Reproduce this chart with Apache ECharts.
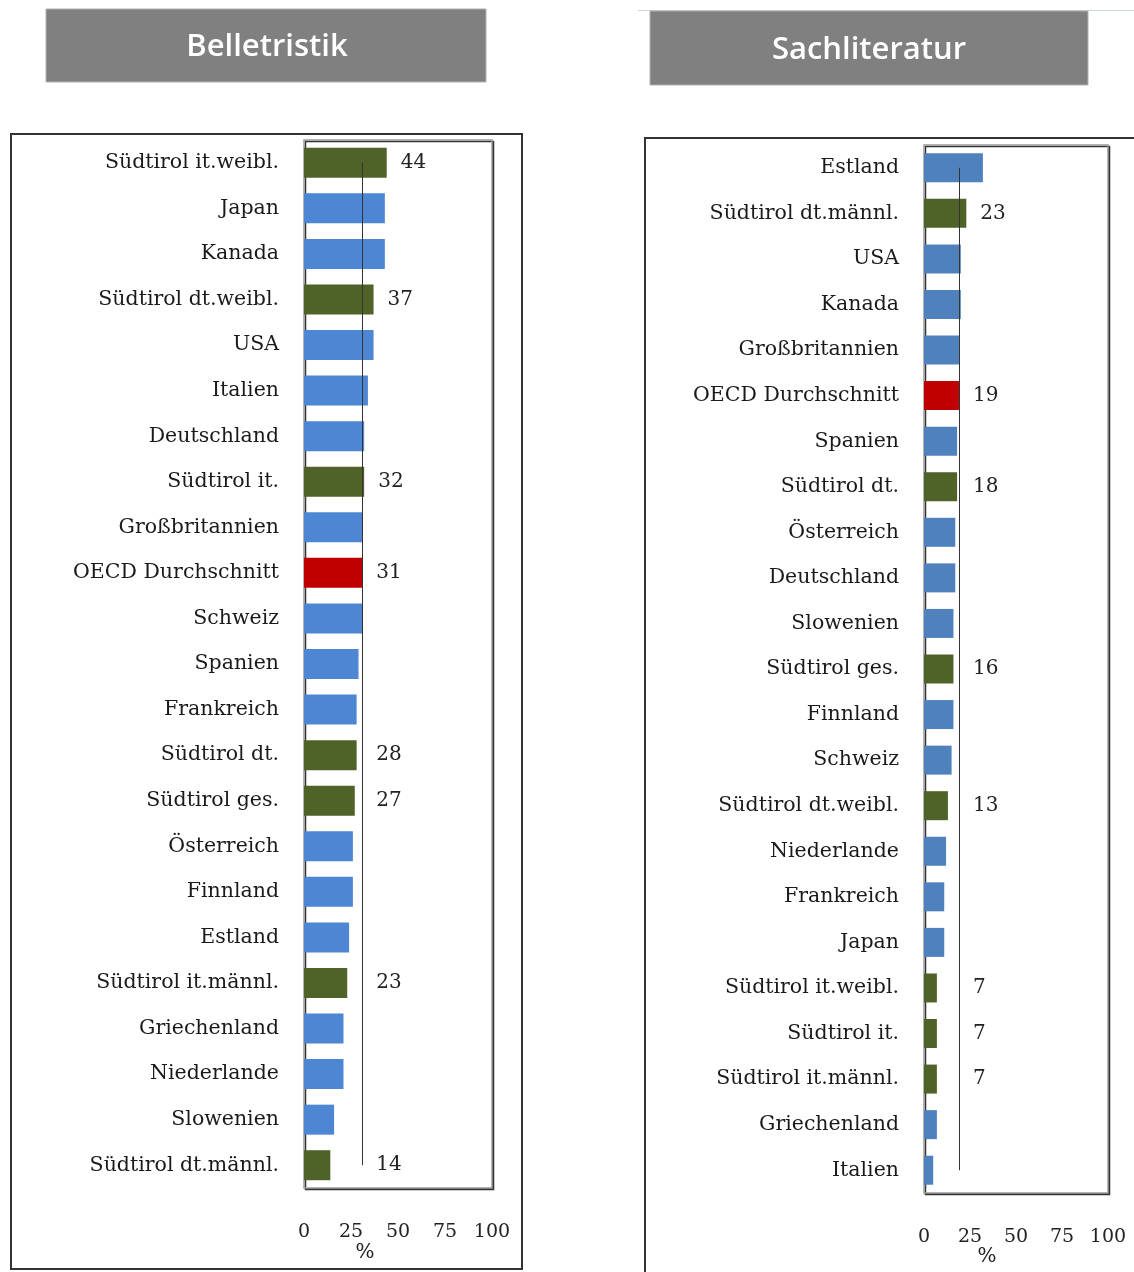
<!DOCTYPE html>
<html>
<head>
<meta charset="utf-8">
<script src="https://cdn.jsdelivr.net/npm/echarts@6/dist/echarts.min.js"></script>
<style>html,body{margin:0;padding:0;background:#fff;}#c{width:1134px;height:1272px;}</style>
</head>
<body>
<div id="c"></div>
<script>
// ---- Data ----
const belTitle = 'Belletristik';
const belCats = ['Südtirol it.weibl.','Japan','Kanada','Südtirol dt.weibl.','USA','Italien','Deutschland','Südtirol it.','Großbritannien','OECD Durchschnitt','Schweiz','Spanien','Frankreich','Südtirol dt.','Südtirol ges.','Österreich','Finnland','Estland','Südtirol it.männl.','Griechenland','Niederlande','Slowenien','Südtirol dt.männl.'];
const belVals = [44,43,43,37,37,34,32,32,31,31,31,29,28,28,27,26,26,24,23,21,21,16,14];
const belRef = 31;

const sachTitle = 'Sachliteratur';
const sachCats = ['Estland','Südtirol dt.männl.','USA','Kanada','Großbritannien','OECD Durchschnitt','Spanien','Südtirol dt.','Österreich','Deutschland','Slowenien','Südtirol ges.','Finnland','Schweiz','Südtirol dt.weibl.','Niederlande','Frankreich','Japan','Südtirol it.weibl.','Südtirol it.','Südtirol it.männl.','Griechenland','Italien'];
const sachVals = [32,23,20,20,19,19,18,18,17,17,16,16,16,15,13,12,11,11,7,7,7,7,5];
const sachRef = 19;

const xTicks = [0,25,50,75,100];
const axisUnit = '%';

// ---- Styling ----
const SERIF = '"DejaVu Serif", "Liberation Serif", serif';
const GREEN = '#4f6228', RED = '#c00000';
const grids = [
  {left:304, top:140, width:188, height:1048, blue:'#4d87d3'},
  {left:924, top:145, width:184, height:1048, blue:'#4f81bd'}
];

function colorFor(name, blue){
  if (name.indexOf('OECD') === 0) return RED;
  if (name.indexOf('Südtirol') === 0) return GREEN;
  return blue;
}
function buildData(cats, vals, ref, g){
  const ppu = g.width / 100;
  return vals.map((v,i)=>{
    const name = cats[i];
    const show = name.indexOf('Südtirol') === 0 || name.indexOf('OECD') === 0;
    return {
      value: v,
      itemStyle: {color: colorFor(name, g.blue)},
      label: {show: show, distance: Math.max(0, ref - v) * ppu + 14}
    };
  });
}

const chart = echarts.init(document.getElementById('c'), null, {renderer:'canvas'});
const panels = [
  {cats:belCats, vals:belVals, ref:belRef},
  {cats:sachCats, vals:sachVals, ref:sachRef}
];

const option = {
  animation:false,
  backgroundColor:'#ffffff',
  grid: grids.map(g=>({left:g.left, top:g.top, width:g.width, height:g.height, show:true,
    backgroundColor:'#fff', borderColor:'#9a9a9a', borderWidth:1.5,
    shadowColor:'#333', shadowOffsetX:1.5, shadowOffsetY:1.5, shadowBlur:0})),
  xAxis: grids.map((g,i)=>({gridIndex:i, type:'value', min:xTicks[0], max:xTicks[xTicks.length-1],
    interval:xTicks[1]-xTicks[0], splitLine:{show:false}, axisLine:{show:false}, axisTick:{show:false},
    axisLabel:{margin:35, fontFamily:SERIF, fontSize:19, color:'#222'}})),
  yAxis: panels.map((p,i)=>({gridIndex:i, type:'category', data:p.cats, inverse:true,
    axisLine:{show:false}, axisTick:{show:false},
    axisLabel:{margin:25, fontFamily:SERIF, fontSize:20.5, color:'#1a1a1a', padding:[3,0,0,0]}})),
  series: panels.map((p,i)=>({
    type:'bar', xAxisIndex:i, yAxisIndex:i, barWidth:i===0?30:29,
    data: buildData(p.cats, p.vals, p.ref, grids[i]),
    label:{position:'right', fontFamily:SERIF, fontSize:20, color:'#222'},
    markLine:{silent:true, symbol:'none', label:{show:false},
      lineStyle:{color:'#333', width:1, type:'solid'},
      data:[[{coord:[p.ref, p.cats[0]]},{coord:[p.ref, p.cats[p.cats.length-1]]}]]}
  })),
  graphic: [
    {type:'line', shape:{x1:638,y1:10.5,x2:1134,y2:10.5}, style:{stroke:'#c8d3de', lineWidth:1}, z:1},
    {type:'rect', shape:{x:46,y:9,width:440,height:73}, style:{fill:'#808080', stroke:'#b0b0b0', lineWidth:1}, z:1},
    {type:'text', x:267, y:47, style:{text:belTitle, fill:'#fff', font:'600 31px "Open Sans", sans-serif', textAlign:'center', textVerticalAlign:'middle'}, z:2},
    {type:'rect', shape:{x:650,y:11,width:438,height:74}, style:{fill:'#808080', stroke:'#b0b0b0', lineWidth:1}, z:1},
    {type:'text', x:869, y:50, style:{text:sachTitle, fill:'#fff', font:'600 31px "Open Sans", sans-serif', textAlign:'center', textVerticalAlign:'middle'}, z:2},
    {type:'rect', shape:{x:11,y:134,width:511,height:1135}, style:{fill:null, stroke:'#333', lineWidth:2}, z:0},
    {type:'rect', shape:{x:645,y:138,width:520,height:1150}, style:{fill:null, stroke:'#333', lineWidth:2}, z:0},
    {type:'text', x:365, y:1253, style:{text:axisUnit, fill:'#222', font:'20px "DejaVu Serif", serif', textAlign:'center', textVerticalAlign:'middle'}, z:2},
    {type:'text', x:987, y:1257, style:{text:axisUnit, fill:'#222', font:'20px "DejaVu Serif", serif', textAlign:'center', textVerticalAlign:'middle'}, z:2}
  ]
};
chart.setOption(option);
</script>
</body>
</html>
